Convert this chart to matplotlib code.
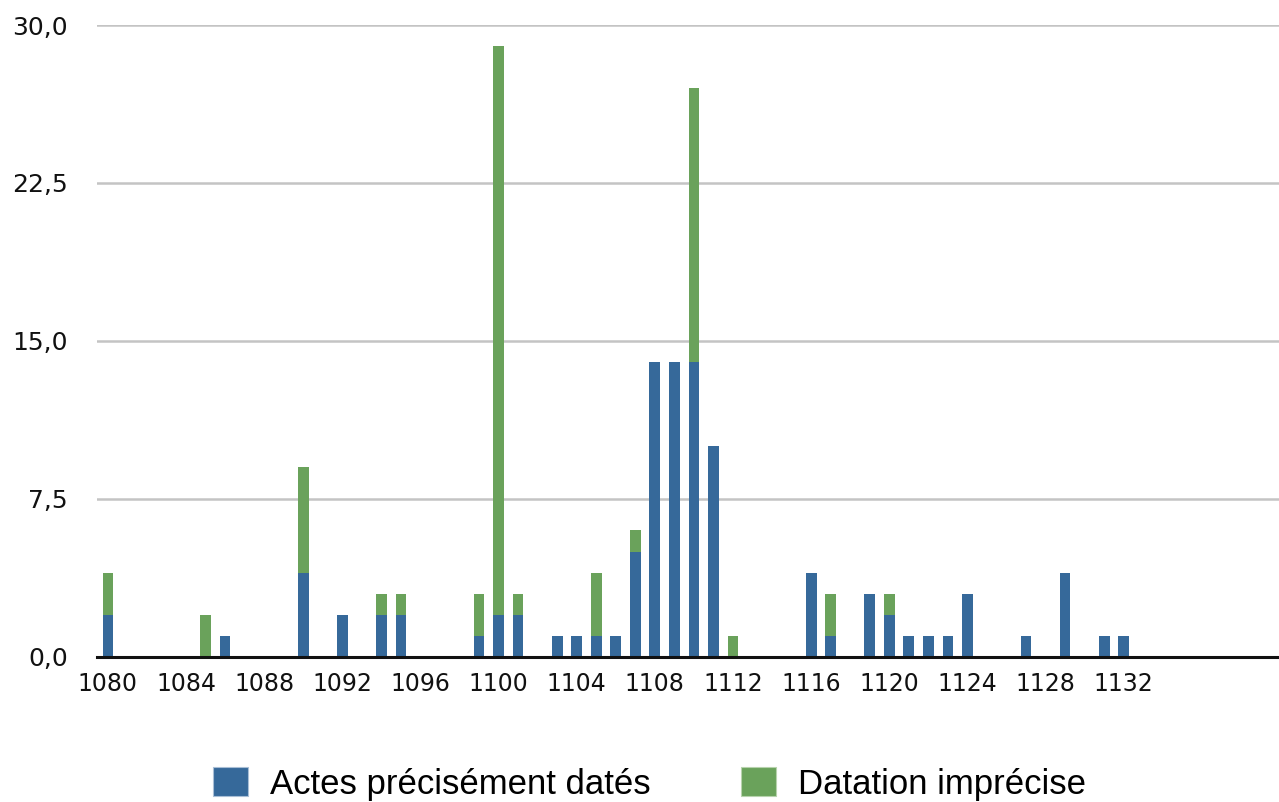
# Actes par année : datés précisément / datation imprécise
import matplotlib.pyplot as plt
from matplotlib.patches import Patch

plt.rcParams['font.family'] = ['Liberation Sans', 'DejaVu Sans']

annees = list(range(1080, 1141))

# une valeur par année, de 1080 à 1140
precis = [2, 0, 0, 0, 0, 0, 1, 0, 0, 0,
          4, 0, 2, 0, 2, 2, 0, 0, 0, 1,
          2, 2, 0, 1, 1, 1, 1, 5, 14, 14,
          14, 10, 0, 0, 0, 0, 4, 1, 0, 3,
          2, 1, 1, 1, 3, 0, 0, 1, 0, 4,
          0, 1, 1, 0, 0, 0, 0, 0, 0, 0,
          0]
imprecis = [2, 0, 0, 0, 0, 2, 0, 0, 0, 0,
            5, 0, 0, 0, 1, 1, 0, 0, 0, 2,
            27, 1, 0, 0, 0, 3, 0, 1, 0, 0,
            13, 0, 1, 0, 0, 0, 0, 2, 0, 0,
            1, 0, 0, 0, 0, 0, 0, 0, 0, 0,
            0, 0, 0, 0, 0, 0, 0, 0, 0, 0,
            0]

etiquettes = ['Actes précisément datés', 'Datation imprécise']
couleurs = ['#36699a', '#6aa25b']
yticks = [0, 7.5, 15, 22.5, 30]

fig = plt.figure(figsize=(12.79, 8.02), dpi=100)
ax = fig.add_axes([0.0758, 0.181, 0.9242, 0.7878])

ax.bar(annees, precis, width=0.55, color=couleurs[0], zorder=3)
ax.bar(annees, imprecis, width=0.55, bottom=precis, color=couleurs[1], zorder=3)

ax.set_xlim(1079.44, 1139.95)
ax.set_ylim(0, 30)
ax.set_yticks(yticks)
ax.set_yticklabels([f'{v:.1f}'.replace('.', ',') for v in yticks],
                   fontsize=18, family='DejaVu Sans')
ax.set_xticks(range(1080, 1133, 4))
ax.set_xticklabels([str(a) for a in range(1080, 1133, 4)],
                   fontsize=17, family='DejaVu Sans')
ax.tick_params(axis='y', length=0, pad=21, colors='#111111')
ax.tick_params(axis='x', length=0, pad=11, colors='#111111')

ax.grid(axis='y', color='#c4c4c4', linewidth=1.8, zorder=0)
ax.set_axisbelow(True)
for s in ['top', 'right', 'left']:
    ax.spines[s].set_visible(False)
ax.spines['bottom'].set_linewidth(2.2)
ax.spines['bottom'].set_color('#111111')
ax.spines['bottom'].set_zorder(4)

poignees = [Patch(facecolor=c, edgecolor='#a9bfd6' if i == 0 else '#b7d3ad', linewidth=0.8)
            for i, c in enumerate(couleurs)]
fig.legend(poignees, etiquettes, loc='center', bbox_to_anchor=(0.508, 1 - 784 / 802),
           ncol=2, frameon=False, fontsize=25, handlelength=1.0, handleheight=0.92,
           handletextpad=0.65, columnspacing=2.6)

fig.savefig('out.png', dpi=100)
